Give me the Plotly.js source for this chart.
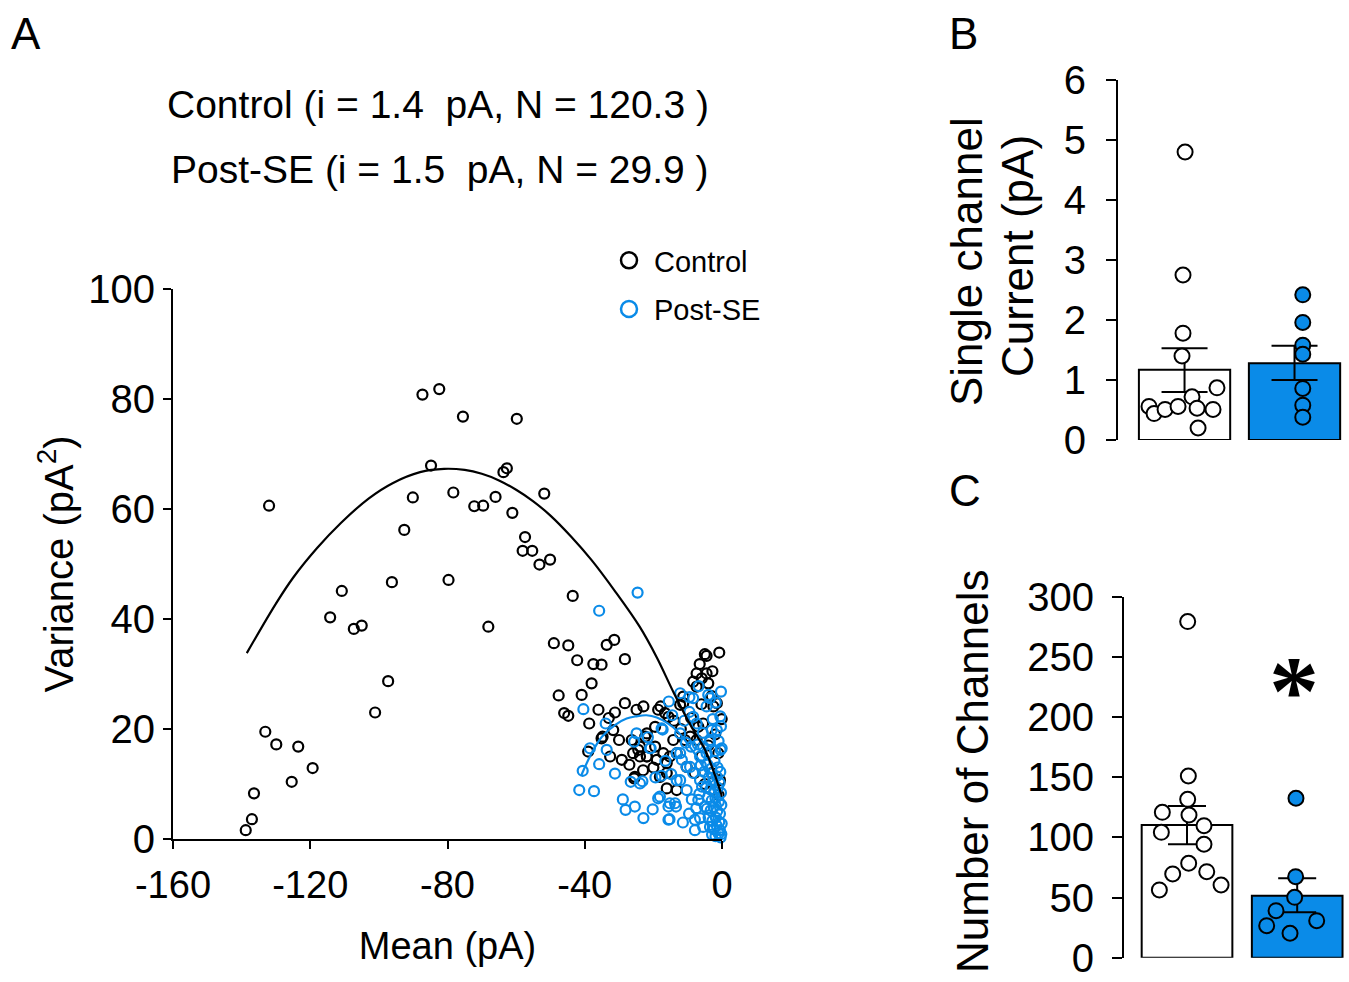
<!DOCTYPE html>
<html>
<head>
<meta charset="utf-8">
<script src="https://cdn.plot.ly/plotly-3.0.1.min.js"></script>
<style>
  html, body { margin: 0; padding: 0; background: #fff; }
  #chart { width: 1349px; height: 982px; }
</style>
</head>
<body>
<div id="chart"></div>
<script>
// ---------- Panel A: mean-variance data ----------
const controlMean = [
  -138.8,-137,-136.4,-133.1,-129.9,-125.4,-123.5,-119.3,-132,
  -114.2,-110.8,-107.3,-105,-101.1,-97.3,-96.2,-92.6,-90.1,-87.3,-82.4,-84.8,-79.7,-78.3,-75.5,-72.2,-69.6,-68.1,-66,-63.7,-62.7,-61.1,-59.8,-58.1,-57.4,-55.3,-53.2,-51.8,-50.1,-49,-44.8,-43.5,-42.2,
  -33.6,-31.4,-37.5,-35.1,-28.3,-38,-47.6,-40.9,-46,-44.8,-38.7,-28.3,-31.2,-24.9,-22.9,-35.1,-31.7,-39,-32.6,-29.2,-24.4,-23.9,-25.6,
  -17.9,-16.6,-12.2,-34.8,-21.9,-19.5,-23.9,-26.3,-25.9,-21.9,-15.2,-25.4,-16.1,-16.1,-13.2,
  -5,-0.8,-4.5,-7.4,-4.5,-5.9,-8.4,-4,-18.6,-15.6,-11.3,-0.1,-2.5,-22.4,-19.5,-21.9,-19,-17.1,-16.1,-13.2,-14.2,-10.8,-9.3,-7.4,-6.9,-5.5,-18.1,-10.3,-0.6,-1.1,-7.4,-11.3,-1.5,-3,-6,-9,-2,-4,-6,-8,-3,-1,-5,-12,-14,-20,-23,-27,-30,-33,-36,-2.8,-6.5
];
const controlVar = [
  1.6,3.6,8.3,19.5,17.2,10.4,16.8,12.9,60.6,
  40.3,45.1,38.2,38.8,23,28.7,46.7,56.2,62.1,80.8,81.8,67.9,47.1,63,76.8,60.5,60.6,38.6,62.2,66.7,67.4,59.3,76.4,52.4,54.9,52.4,49.9,62.8,50.8,35.6,35.2,44.2,32.5,
  35.3,36.2,31.8,31.7,32.7,28.3,26.1,26.2,22.9,22.4,21,24.7,23,23.5,24.1,18.3,19.8,15.9,15,14.4,16.2,15,11,
  24.1,22.9,24.4,18.6,19.2,20.4,16.8,18,15.6,15,15,11.3,12,9.2,8.9,
  33.6,33.9,33.3,30.1,30.1,29.2,28.6,28.3,23.5,22.2,24.7,21.8,24.1,18.6,16.8,15,14.4,15.6,13.8,15.6,18,18,18.6,18,20.4,21,11.3,13.1,10.7,15.6,27.7,25.9,24.7,26,24.5,22,19,17,15,12,12,8,10,20,21.5,13,12.5,13.5,18,22,23.5,30.5,31.8
];
const postMean = [
  -24.6,-35.8,-40.4,-33.9,-38.5,-40.6,-33.6,-35.8,-31.2,-41.6,-37.3,-28.9,-28.1,-25.4,-22.9,-26.6,-23.2,-24.9,-25.6,-20.8,-17.3,-17.6,-18.6,-15.6,-13.4,-15.3,
  -12.2,-9.5,-4,-3.5,-4.5,-8.4,-7.4,-12.2,-3,-1.5,-0.4,-3.5,-5.5,-4.5,-12.2,-10.3,-8.4,-13.2,-10.3,-6.9,-6.4,-5.5,-21.6,-8.4,-9.5,-17.6,-21,-13.2,-11.7,-6.4,-9.3,-23.9,-12.2,-6.4,-18.1,-15.2,-13.7,-15.6,-7.9,-5,-0.1,-3.5,-7.9,
  -4.2,-3.1,-2.2,-1.3,-0.5,-3.8,-2.6,-1.6,-0.7,-4.6,-3.4,-2.3,-1.2,-0.3,-4.1,-3,-1.9,-0.9,-0.2,-4.4,-3.3,-2.4,-1.4,-0.6,-3.9,-2.8,-1.8,-0.8,-0.1,-3.5,-2.4,-1.5,-0.6,-0.2,-2.9,-1.9,-1,-0.4,
  -5.8,-6.6,-7.5,-5.2,-6.2,-2,-1,-0.3,-2.7,-0.5,-1.8,-5.6,-7,-9,-10.5,-11,-14.5,-15.5,-6.8,-0.3,-14.8,-16.5,-19.4,-20.2,-9.6,-11.4,-8.8
];
const postVar = [
  44.8,41.5,23.6,21,16.5,12.4,16.2,13.6,11.9,8.9,8.7,7.2,5.3,5.9,3.8,10.4,10.5,19.2,17.7,16.5,19.9,11.5,7.4,5.9,5.9,3.6,
  26.5,25.8,26.2,25.6,24.1,22.2,21,19.2,19.8,19.8,16.2,18,16.8,15.6,15.6,13.1,12,10.7,8.9,7.1,3.8,2.2,18.5,25.6,23.1,20.1,16.5,15.6,14.4,15,13.1,10.1,10.7,10.7,7.7,6.5,6.5,3.5,3.5,5.9,16.5,17.7,1.6,
  13.5,12.8,14.2,13,12.2,11.2,10.5,11.4,10.2,9.4,9,8.6,9.3,8.4,7.6,7,7.4,6.8,6.2,5.5,5.2,5.8,5.1,4.6,3.9,3.3,3.9,3.1,2.8,2.2,1.8,2.4,1.6,0.9,0.8,0.5,1,0.3,
  9.5,8.2,5.6,12.2,13.4,16,17.8,20.5,21.8,22.3,24.8,19.3,17.2,16.8,17.5,21.5,22.5,25,27.8,26.8,11.8,14.2,11.2,5.4,4.6,3,7.2
];
// fitted curves
const controlFitMean = [-138.5,-130,-125,-118,-111,-103,-96,-88,-81,-75,-70,-65,-60,-55,-50,-44,-38,-31,-24,-19,-14,-9,-5,-2,0];
const controlFitVar  = [33.8,42.8,47.5,52.9,57.5,61.9,64.7,66.7,67.3,67.1,66.4,65.2,63.5,61.4,58.8,55,50.7,44.9,38.6,33,26.5,20.5,16.3,11.5,7.7];
const postFitMean = [-41,-38,-35,-31,-27.8,-25,-22,-19,-16,-13,-10,-7,-5,-3,-1.5,-0.3];
const postFitVar  = [11.6,15.6,18.6,20.8,21.9,22.3,22.5,22.1,21.1,19.6,17.3,14.6,12.5,9.9,7.8,6.1];
const aXTicks = [-160,-120,-80,-40,0];
const aXTickText = ['-160','-120','-80','-40','0'];
const aYTicks = [0,20,40,60,80,100];

// ---------- Panel B: single channel current ----------
const groups = ['Control', 'Post-SE'];
const bMeans = [1.17, 1.28];
const bErrPlus = [0.36, 0.29];
const bErrMinus = [0.37, 0.28];
const bControlValues = [4.8,2.75,1.78,1.4,0.87,0.72,0.56,0.44,0.51,0.56,0.53,0.51,0.2];
const bControlJitter = [0.005,-0.014,-0.014,-0.023,0.295,0.068,-0.323,-0.277,-0.177,-0.059,0.114,0.259,0.123];
const bPostValues = [2.42,1.96,1.58,1.43,0.86,0.58,0.38];
const bPostJitter = [0.075,0.075,0.075,0.075,0.075,0.075,0.075];
const bYTicks = [0,1,2,3,4,5,6];

// ---------- Panel C: number of channels ----------
const cMeans = [110.3, 51.5];
const cErrPlus = [15.7, 14.5];
const cErrMinus = [16.1, 13.8];
const cControlValues = [279.3,151,131.6,120.8,118.6,109.7,104.2,94.3,78.5,69.6,71.5,56.3,60.4];
const cControlJitter = [0.006,0.012,0.006,-0.224,0.018,0.154,-0.233,0.154,0.015,-0.13,0.179,-0.251,0.309];
const cPostValues = [132.5,67.3,50.2,39.1,30.8,26.6,20.3];
const cPostJitter = [-0.011,-0.014,-0.023,-0.192,0.177,-0.277,-0.065];
const cYTicks = [0,50,100,150,200,250,300];

const BLUE = '#0a8be8';
const FONT = 'Liberation Sans, Arial, Helvetica, sans-serif';
const W = 1349, H = 982;
const px = v => v / W;
const py = v => 1 - v / H;

const traces = [
  { type:'scatter', mode:'markers', x: controlMean, y: controlVar, xaxis:'x', yaxis:'y',
    marker:{symbol:'circle-open', size:10, color:'#000', line:{width:2.2, color:'#000'}},
    showlegend:false, cliponaxis:false, hoverinfo:'skip' },
  { type:'scatter', mode:'markers', x: postMean, y: postVar, xaxis:'x', yaxis:'y',
    marker:{symbol:'circle-open', size:10, color:BLUE, line:{width:2.2, color:BLUE}},
    showlegend:false, cliponaxis:false, hoverinfo:'skip' },
  { type:'scatter', mode:'lines', x: controlFitMean, y: controlFitVar, xaxis:'x', yaxis:'y',
    line:{color:'#000', width:2.2, shape:'spline'}, showlegend:false, cliponaxis:false, hoverinfo:'skip' },
  { type:'scatter', mode:'lines', x: postFitMean, y: postFitVar, xaxis:'x', yaxis:'y',
    line:{color:BLUE, width:2.2, shape:'spline'}, showlegend:false, cliponaxis:false, hoverinfo:'skip' },
  // legend entries
  { type:'scatter', mode:'markers', x:[null], y:[null], xaxis:'x', yaxis:'y', name:'Control', legendgroup:'c',
    marker:{symbol:'circle-open', size:16, color:'#000', line:{width:2.5, color:'#000'}} },
  { type:'scatter', mode:'markers', x:[null], y:[null], xaxis:'x', yaxis:'y', name:'Post-SE', legendgroup:'p',
    marker:{symbol:'circle-open', size:16, color:BLUE, line:{width:2.5, color:BLUE}} },

  // Panel B bars
  { type:'bar', x:[0,1], y:bMeans, xaxis:'x2', yaxis:'y2', width:0.83, showlegend:false, hoverinfo:'skip',
    marker:{color:['#ffffff', BLUE], line:{color:'#000', width:2}},
    error_y:{type:'data', symmetric:false, array:bErrPlus, arrayminus:bErrMinus, color:'#000', thickness:2, width:23} },
  { type:'scatter', mode:'markers', x: bControlJitter.map(j => 0 + j), y: bControlValues, xaxis:'x2', yaxis:'y2',
    marker:{symbol:'circle', size:15, color:'#fff', line:{width:2, color:'#000'}}, showlegend:false, cliponaxis:false, hoverinfo:'skip' },
  { type:'scatter', mode:'markers', x: bPostJitter.map(j => 1 + j), y: bPostValues, xaxis:'x2', yaxis:'y2',
    marker:{symbol:'circle', size:15, color:BLUE, line:{width:2, color:'#000'}}, showlegend:false, cliponaxis:false, hoverinfo:'skip' },

  // Panel C bars
  { type:'bar', x:[0,1], y:cMeans, xaxis:'x3', yaxis:'y3', width:0.823, showlegend:false, hoverinfo:'skip',
    marker:{color:['#ffffff', BLUE], line:{color:'#000', width:2}},
    error_y:{type:'data', symmetric:false, array:cErrPlus, arrayminus:cErrMinus, color:'#000', thickness:2, width:19} },
  { type:'scatter', mode:'markers', x: cControlJitter.map(j => 0 + j), y: cControlValues, xaxis:'x3', yaxis:'y3',
    marker:{symbol:'circle', size:15, color:'#fff', line:{width:2, color:'#000'}}, showlegend:false, cliponaxis:false, hoverinfo:'skip' },
  { type:'scatter', mode:'markers', x: cPostJitter.map(j => 1 + j), y: cPostValues, xaxis:'x3', yaxis:'y3',
    marker:{symbol:'circle', size:15, color:BLUE, line:{width:2, color:'#000'}}, showlegend:false, cliponaxis:false, hoverinfo:'skip' }
];

const axisCommon = {
  showline:true, linecolor:'#000', linewidth:2, ticks:'outside', tickcolor:'#000', tickwidth:2,
  showgrid:false, zeroline:false, fixedrange:true, color:'#000'
};

const layout = {
  width: W, height: H,
  margin:{l:0, r:0, t:0, b:0},
  paper_bgcolor:'#fff', plot_bgcolor:'rgba(0,0,0,0)',
  font:{family:FONT, color:'#000'},
  showlegend:true,
  legend:{x:px(604), y:py(235), xanchor:'left', yanchor:'top', font:{size:29, family:FONT},
          bgcolor:'rgba(0,0,0,0)', tracegroupgap:8, itemwidth:40},
  xaxis: Object.assign({}, axisCommon, {
    domain:[px(173), px(722)], range:[-160, 0], anchor:'y',
    tickvals:aXTicks, ticktext:aXTickText, ticklen:8, ticklabelstandoff:3,
    tickfont:{size:38}, title:{text:'Mean (pA)', font:{size:38}, standoff:28}
  }),
  yaxis: Object.assign({}, axisCommon, {
    domain:[1 - 839/H, 1 - 289/H], range:[0, 100], anchor:'x',
    tickvals:aYTicks, ticklen:8, ticklabelstandoff:0,
    tickfont:{size:40}, title:{text:'Variance (pA<sup>2</sup>)', font:{size:40}, standoff:2}
  }),
  xaxis2:{domain:[px(1118), px(1345)], range:[-0.605, 1.459], anchor:'y2', visible:false, fixedrange:true},
  yaxis2: Object.assign({}, axisCommon, {
    domain:[1 - 440/H, 1 - 80/H], range:[0, 6], anchor:'x2',
    tickvals:bYTicks, ticklen:10, ticklabelstandoff:12, tickfont:{size:40}
  }),
  xaxis3:{domain:[px(1124), px(1346)], range:[-0.572, 1.443], anchor:'y3', visible:false, fixedrange:true},
  yaxis3: Object.assign({}, axisCommon, {
    domain:[1 - 957.7/H, 1 - 596.7/H], range:[0, 300], anchor:'x3',
    tickvals:cYTicks, ticklen:10, ticklabelstandoff:10, tickfont:{size:40}
  }),
  annotations:[
    {text:'A', x:px(26), y:py(33), xref:'paper', yref:'paper', showarrow:false, font:{size:44}, xanchor:'center', yanchor:'middle'},
    {text:'B', x:px(963), y:py(33), xref:'paper', yref:'paper', showarrow:false, font:{size:44}, xanchor:'center', yanchor:'middle'},
    {text:'C', x:px(965), y:py(490), xref:'paper', yref:'paper', showarrow:false, font:{size:44}, xanchor:'center', yanchor:'middle'},
    {text:'Control (i = 1.4  pA, N = 120.3 )', x:px(438), y:py(104), xref:'paper', yref:'paper', showarrow:false, font:{size:39}, xanchor:'center', yanchor:'middle'},
    {text:'Post-SE (i = 1.5  pA, N = 29.9 )', x:px(440), y:py(170), xref:'paper', yref:'paper', showarrow:false, font:{size:39}, xanchor:'center', yanchor:'middle'},
    {text:'Single channel', x:px(966), y:py(262), xref:'paper', yref:'paper', showarrow:false, font:{size:44}, textangle:-90, xanchor:'center', yanchor:'middle'},
    {text:'Current (pA)', x:px(1018), y:py(256), xref:'paper', yref:'paper', showarrow:false, font:{size:44}, textangle:-90, xanchor:'center', yanchor:'middle'},
    {text:'Number of Channels', x:px(972), y:py(771), xref:'paper', yref:'paper', showarrow:false, font:{size:44}, textangle:-90, xanchor:'center', yanchor:'middle'},
    {text:'<b>*</b>', x:px(1294), y:py(690), xref:'paper', yref:'paper', showarrow:false, font:{size:100, family:'Liberation Serif, Times New Roman, serif'}, xanchor:'center', yanchor:'middle'}
  ]
};

Plotly.newPlot('chart', traces, layout, {staticPlot:true, displayModeBar:false});
</script>
</body>
</html>
